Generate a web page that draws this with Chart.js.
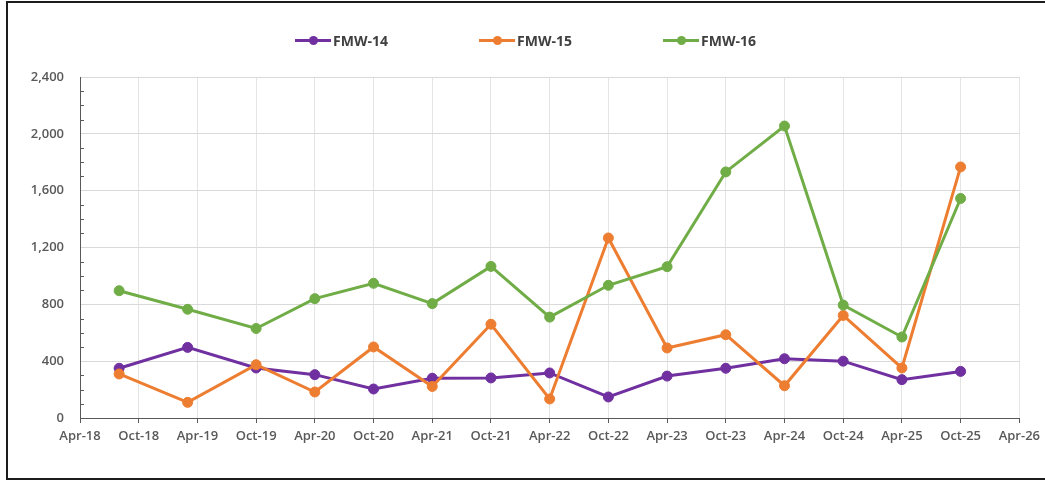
<!DOCTYPE html>
<html>
<head>
<meta charset="utf-8">
<script src="https://cdn.jsdelivr.net/npm/chart.js@4.4.1/dist/chart.umd.min.js"></script>
<style>
  html, body { margin: 0; padding: 0; background: #fff; }
  #wrap { position: relative; width: 1045px; height: 480px; overflow: hidden; }
  #chart { position: absolute; left: 0; top: 0; }
  #frame {
    position: absolute; left: 6px; top: 1px; width: 1100px; height: 475px;
    border: 2px solid #1c1c1c; pointer-events: none;
  }
  .leg { position: absolute; top: 31px; height: 18px; display: flex; align-items: center;
         font: bold 14px "Open Sans", sans-serif; color: #404040; }
  .leg .mk { position: relative; width: 36px; height: 18px; margin-right: 2px; }
  .leg .mk i { position: absolute; left: 0; top: 8px; width: 36px; height: 3px; }
  .leg .mk b { position: absolute; left: 14px; top: 5px; width: 9px; height: 9px; border-radius: 50%; }
</style>
</head>
<body>
<div id="wrap">
  <canvas id="chart" width="1045" height="480"></canvas>
  <div id="legend"></div>
  <div id="frame"></div>
</div>
<script>
/* ── Data ── */
const tickLabels = ['Apr-18','Oct-18','Apr-19','Oct-19','Apr-20','Oct-20','Apr-21','Oct-21','Apr-22',
                    'Oct-22','Apr-23','Oct-23','Apr-24','Oct-24','Apr-25','Oct-25','Apr-26'];
// sampling dates, as months counted from Apr-18
const sampleMonths = [4, 11, 18, 24, 30, 36, 42, 48, 54, 60, 66, 72, 78, 84, 90];
const seriesNames = ['FMW-14', 'FMW-15', 'FMW-16'];
const fmw14 = [350, 497, 352, 305, 204, 280, 282, 317, 148, 295, 350, 417, 400, 270, 328];
const fmw15 = [310, 110, 375, 183, 500, 222, 660, 134, 1267, 493, 586, 227, 722, 352, 1767];
const fmw16 = [896, 765, 630, 840, 948, 805, 1067, 710, 934, 1065, 1732, 2055, 795, 570, 1545];

/* ── Colours ── */
const C = {
  purple: '#7030a0',
  orange: '#ed7d31',
  green:  '#70ad47',
  axis:   '#595959',
  gridX:  '#e4e4e4',
  gridY:  '#d9d9d9',
  text:   '#595959',
};
const colors = [C.purple, C.orange, C.green];

const toPoints = vals => vals.map((v, i) => ({ x: sampleMonths[i], y: v }));

/* ── HTML legend ── */
const legendX = [295, 479, 663];
const legendEl = document.getElementById('legend');
seriesNames.forEach((name, i) => {
  const d = document.createElement('div');
  d.className = 'leg';
  d.style.left = legendX[i] + 'px';
  d.innerHTML = `<span class="mk"><i style="background:${colors[i]}"></i><b style="background:${colors[i]}"></b></span>${name}`;
  legendEl.appendChild(d);
});

/* ── minor tick marks on the value axis ── */
const minorTicks = {
  id: 'minorTicks',
  afterDraw(chart) {
    const y = chart.scales.y, ctx = chart.ctx, left = chart.chartArea.left;
    ctx.save();
    ctx.strokeStyle = C.axis;
    ctx.lineWidth = 1;
    for (let v = 100; v < 2400; v += 100) {
      if (v % 400 === 0) continue;
      const py = Math.round(y.getPixelForValue(v)) + 0.5;
      ctx.beginPath();
      ctx.moveTo(left, py);
      ctx.lineTo(left + 4, py);
      ctx.stroke();
    }
    ctx.restore();
  },
};

const tickFont = { family: "'Open Sans', sans-serif", size: 13, weight: '600' };

const datasets = [fmw14, fmw15, fmw16].map((vals, i) => ({
  label: seriesNames[i],
  data: toPoints(vals),
  borderColor: colors[i],
  backgroundColor: colors[i],
  borderWidth: 3,
  pointRadius: 5,
  pointBorderWidth: 1,
  pointBackgroundColor: colors[i],
  pointBorderColor: colors[i],
  tension: 0,
  order: 3 - i,   // later series on top
}));

new Chart(document.getElementById('chart').getContext('2d'), {
  type: 'line',
  data: { datasets },
  options: {
    responsive: false,
    animation: false,
    layout: { padding: { top: 77, right: 22, bottom: 0, left: 0 } },
    plugins: {
      legend: { display: false },
      tooltip: { enabled: true },
    },
    scales: {
      x: {
        type: 'linear',
        min: 0,
        max: 96,
        afterFit: s => { s.height = 62; },
        afterBuildTicks: s => { s.ticks = tickLabels.map((_, i) => ({ value: i * 6 })); },
        ticks: {
          autoSkip: false,
          maxRotation: 0,
          padding: 5,
          color: C.text,
          font: tickFont,
          callback: v => tickLabels[v / 6],
        },
        grid: { color: C.gridX, lineWidth: 1, drawTicks: true, tickLength: 5, tickColor: C.axis },
        border: { display: true, color: C.axis, width: 1 },
      },
      y: {
        min: 0,
        max: 2400,
        afterFit: s => { s.width = 80; },
        ticks: {
          stepSize: 400,
          padding: 16,
          color: C.text,
          font: tickFont,
          callback: v => v.toLocaleString('en-US'),
        },
        grid: { color: C.gridY, lineWidth: 1, drawTicks: false },
        border: { display: true, color: C.axis, width: 1 },
      },
    },
  },
  plugins: [minorTicks],
});
</script>
</body>
</html>
